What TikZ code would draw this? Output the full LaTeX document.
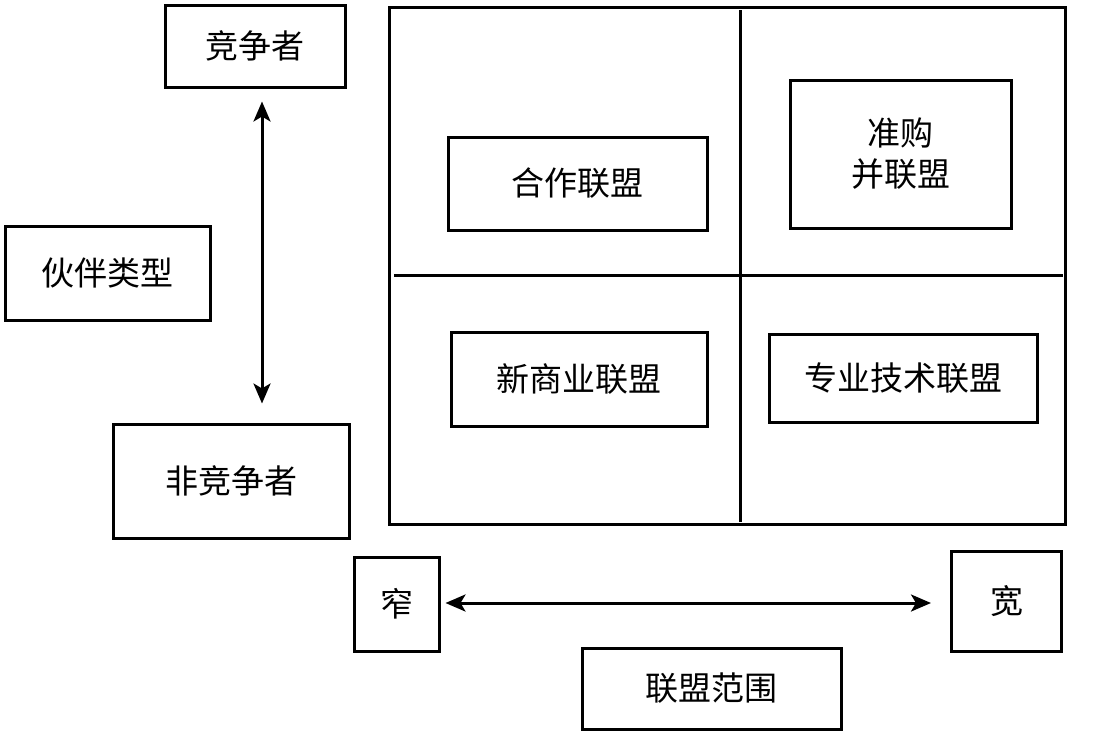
\documentclass[tikz,border=0pt]{standalone}
\usepackage{fontspec}
\setmainfont{Noto Sans CJK SC}
\usetikzlibrary{arrows.meta}
\begin{document}
\begin{tikzpicture}[x=1pt,y=-1pt,
  box/.style={draw,line width=3pt,inner sep=0pt,align=center,font=\fontsize{33}{41}\selectfont},
  arr/.style={line width=3pt,{Stealth[length=20pt,width=17pt,inset=5pt]}-{Stealth[length=20pt,width=17pt,inset=5pt]}},
  div/.style={line width=3pt}]
\useasboundingbox (0,0) rectangle (1098,734);
\node[box,minimum width=180pt,minimum height=82pt] (comp) at (255,46) {竞争者};
\node[box,minimum width=205pt,minimum height=94pt] (type) at (107.5,273) {伙伴类型};
\node[box,minimum width=236pt,minimum height=114pt] (noncomp) at (231,481) {非竞争者};
\draw[line width=3pt] (389,7) rectangle (1065,524);
\coordinate (vt) at (740,10);
\coordinate (vb) at (740,522);
\coordinate (hl) at (394,275);
\coordinate (hr) at (1063,275);
\draw[div] (vt) -- (vb);
\draw[div] (hl) -- (hr);
\node[box,minimum width=259pt,minimum height=93pt] (coop) at (577.5,183.5) {合作联盟};
\node[box,minimum width=221pt,minimum height=148pt] (merge) at (900.5,154) {准购\\并联盟};
\node[box,minimum width=256pt,minimum height=94pt] (newbiz) at (579,379) {新商业联盟};
\node[box,minimum width=268pt,minimum height=88pt] (tech) at (903,378) {专业技术联盟};
\node[box,minimum width=85pt,minimum height=94pt] (narrow) at (396.5,604) {窄};
\node[box,minimum width=110pt,minimum height=100pt] (wide) at (1006.5,601.5) {宽};
\node[box,minimum width=259pt,minimum height=81pt] (scope) at (711.5,688.5) {联盟范围};
\draw[arr,shorten <=13pt,shorten >=19pt] (comp.south -| 262,0) -- (noncomp.north -| 262,0);
\draw[arr,shorten <=5pt,shorten >=19pt] (narrow.east |- 0,603) -- (wide.west |- 0,603);
\end{tikzpicture}
\end{document}
